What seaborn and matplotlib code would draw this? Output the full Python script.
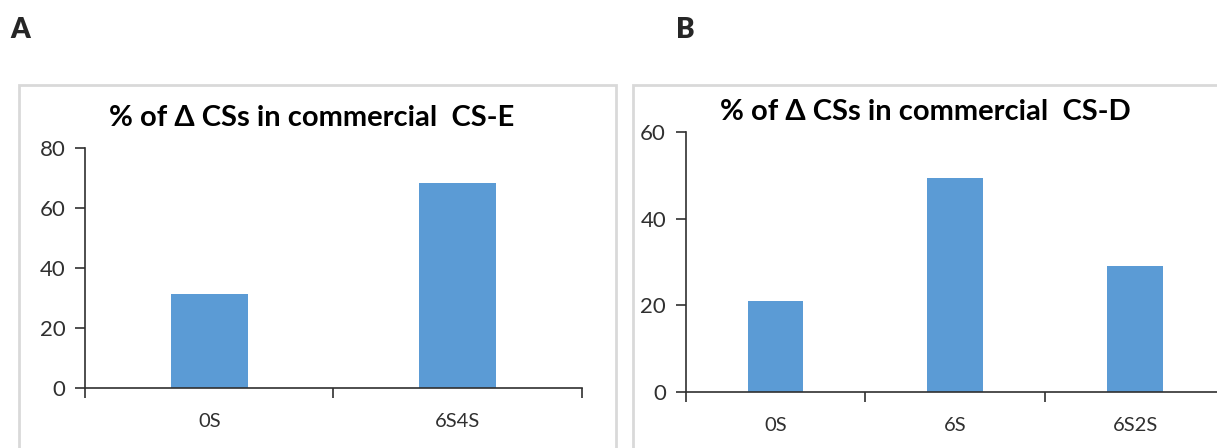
import matplotlib
matplotlib.use("Agg")
import matplotlib.pyplot as plt
import seaborn as sns
import pandas as pd
from matplotlib.patches import Rectangle

# Data
cats_a = ["0S", "6S4S"]
vals_a = [31.2, 68.5]
cats_b = ["0S", "6S", "6S2S"]
vals_b = [21.1, 49.5, 29.2]
title_a = "% of \u0394 CSs in commercial  CS-E"
title_b = "% of \u0394 CSs in commercial  CS-D"
yticks_a = [0, 20, 40, 60, 80]
yticks_b = [0, 20, 40, 60]

sns.set_style("white")
plt.rcParams['font.family'] = ['Lato', 'DejaVu Sans']

W, H = 1217, 448
fig = plt.figure(figsize=(W / 100, H / 100), dpi=100)

bar_color = "#5b9bd5"
axis_color = "#303030"
tick_color = "#303030"

# Panel frames (figure coords)
def px_rect(x0, y0, x1, y1):
    return Rectangle((x0 / W, 1 - y1 / H), (x1 - x0) / W, (y1 - y0) / H,
                     transform=fig.transFigure, fill=False,
                     edgecolor="#d9d9d9", linewidth=2, zorder=0)

fig.patches.append(px_rect(19, 85, 616, 460))
fig.patches.append(px_rect(633, 85, 1240, 460))

def make_panel(rect, cats, vals, ylim, yticks):
    ax = fig.add_axes(rect)
    df = pd.DataFrame({"cat": cats, "val": vals})
    sns.barplot(data=df, x="cat", y="val", color=bar_color, width=0.31,
                saturation=1, ax=ax)
    n = len(cats)
    ax.set_xlim(-0.5, n - 0.5)
    ax.set_ylim(ylim)
    ax.set_yticks(yticks)
    ax.set_xlabel("")
    ax.set_ylabel("")
    for s in ["top", "right"]:
        ax.spines[s].set_visible(False)
    for s in ["left", "bottom"]:
        ax.spines[s].set_color(axis_color)
        ax.spines[s].set_linewidth(1.2)
    ax.set_xticks(range(n))
    ax.set_xticklabels(cats)
    ax.set_xticks([i - 0.5 for i in range(n + 1)], minor=True)
    ax.tick_params(axis="x", which="major", bottom=True, length=0, pad=18,
                   labelsize=14.5, labelcolor=tick_color)
    ax.tick_params(axis="x", which="minor", bottom=True, length=7, width=1.2,
                   color=axis_color, direction="out")
    ax.tick_params(axis="y", which="major", left=True, length=7, width=1.2,
                   color=axis_color, direction="out", labelsize=16,
                   labelcolor=tick_color, pad=7)
    for p in ax.patches:
        p.set_edgecolor("none")
    ax.patch.set_alpha(0)
    return ax

ax_a = make_panel([85 / W, (H - 387.7) / H, (582 - 85) / W, (387.7 - 148.3) / H],
                  cats_a, vals_a, (0, 80), yticks_a)
ax_b = make_panel([685.5 / W, (H - 392) / H, (1225 - 685.5) / W, (392 - 132.3) / H],
                  cats_b, vals_b, (0, 60), yticks_b)

fig.text(312 / W, 1 - 118 / H, title_a, ha="center", va="center",
         fontsize=21, fontweight="bold", color="#000000")
fig.text(925 / W, 1 - 112 / H, title_b, ha="center", va="center",
         fontsize=21, fontweight="bold", color="#000000")

fig.text(20 / W, 1 - 30 / H, "A", ha="center", va="center",
         fontsize=20, fontweight="heavy")
fig.text(685 / W, 1 - 30 / H, "B", ha="center", va="center",
         fontsize=20, fontweight="heavy")

fig.savefig("out.png", dpi=100, facecolor="white")
